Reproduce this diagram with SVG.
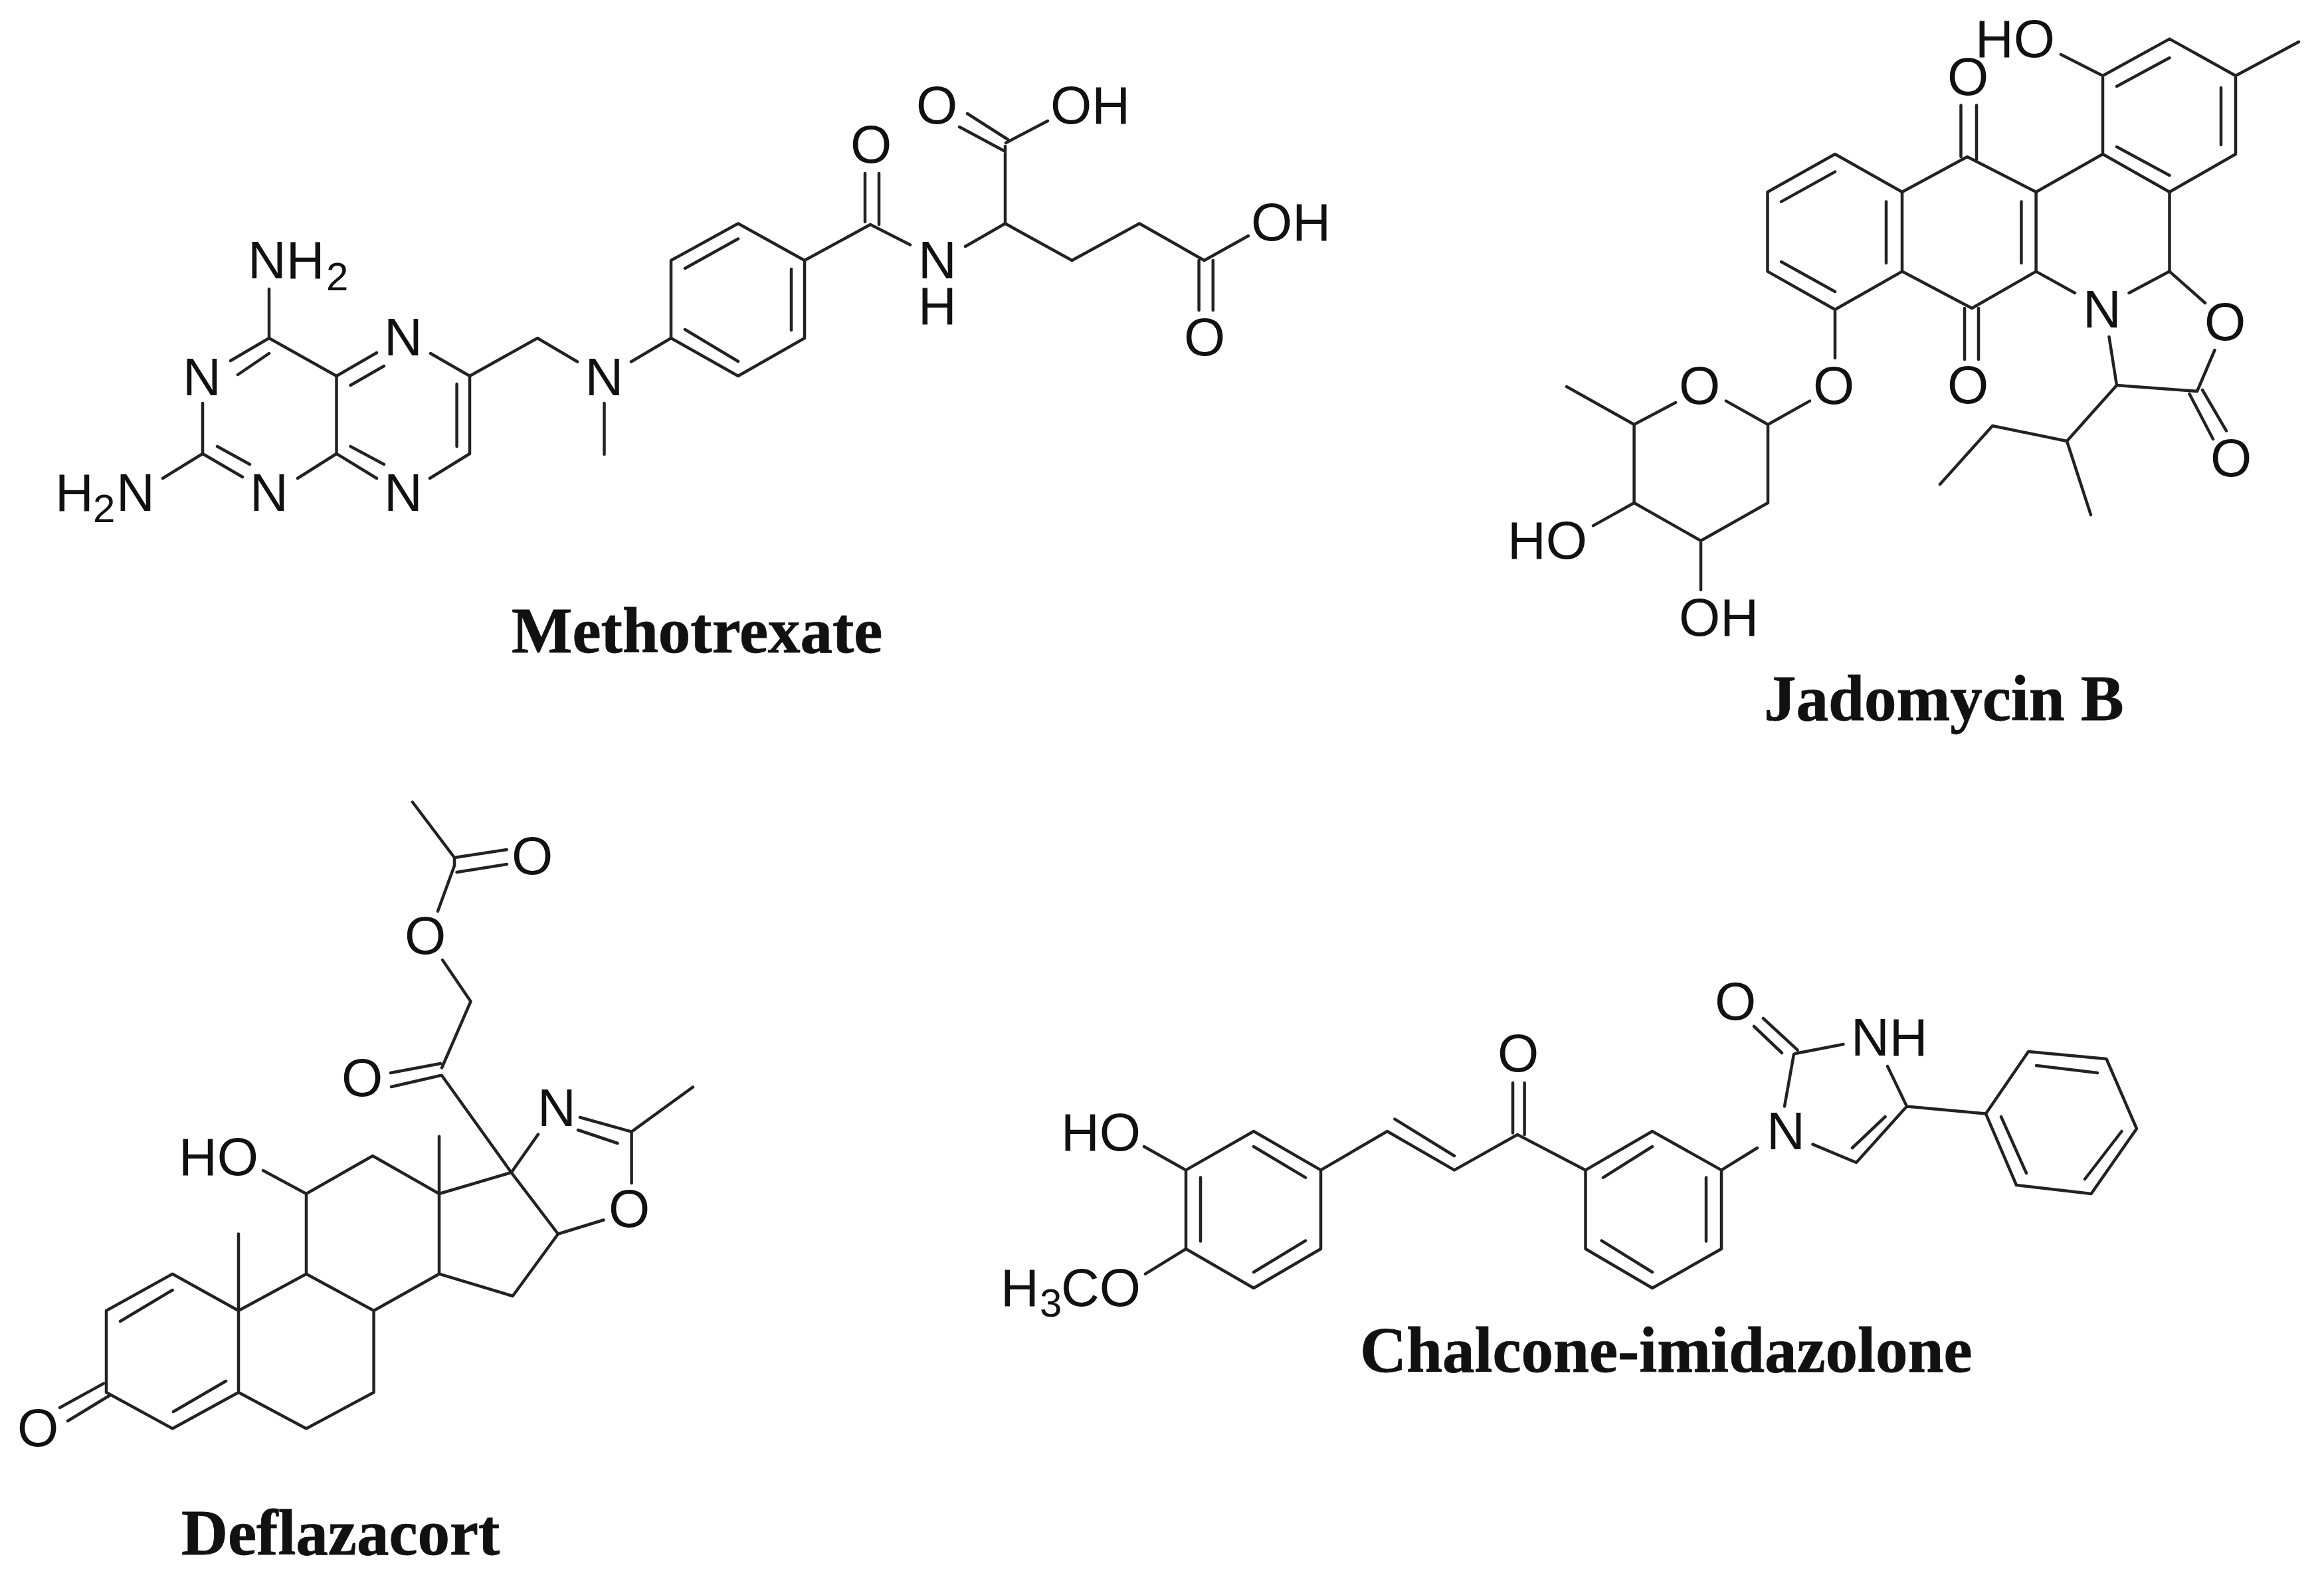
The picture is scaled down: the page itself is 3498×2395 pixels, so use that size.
<svg xmlns="http://www.w3.org/2000/svg" width="3498" height="2395" viewBox="0 0 3498 2395">
<style>
.b{fill:none;stroke:#222;stroke-width:4.5;stroke-linecap:round;stroke-linejoin:round}
.a{font-family:"Liberation Sans",Arial,sans-serif;font-size:80px;fill:#111}
.m{text-anchor:middle}
.s{font-size:60px}
.c{font-family:"Liberation Serif","Times New Roman",serif;font-size:97px;font-weight:bold;fill:#111;stroke:#111;stroke-width:.8}
</style>
<rect width="3498" height="2395" fill="#fff"/>
<g id="connectors">
<path id="bonds-methotrexate" class="b" d="M405 509L405 435M405 509L347 543M405 532L358 564M405 509L506.500 566M506.500 566L567 531M527.500 580L578 551M506.500 566L506.500 683M648 532L707 566M707 566L707 683M687.600 578L687.600 672M707 683L647 720M506.500 683L567 720M527.500 672L578 699M506.500 683L448 720M305 683L365 718M327 672L376 699M305 607L305 683M305 683L245 720M707 566L809 509L869 544.500M909.500 607L909.500 684M950 544.500L1010 509L1010 392L1111 336.500L1211 392L1211 509L1111 566L1010 509M1031 404L1111 359.500M1191 405L1191 497M1031 496L1111 544M1211 392L1310 338L1370 368.600M1302 261L1302 334M1323 261L1323 338M1453 371L1513 336.500L1513 220M1513 228L1444 191M1517 210L1456 171M1514 215L1577 182M1513 336.500L1613.500 392L1715 336.500L1812.600 392L1879 355M1804.600 392L1804.600 467M1825.800 392L1825.800 467"/>
<path id="bonds-jadomycin" class="b" d="M2762 232L2863 289L2863 408.600L2762 466L2660.500 408.600L2660.500 289ZM2681 303.600L2762 258.600M2839 303.600L2839 396M2681 394L2762 439M2863 289L2961 236L3064.600 289L3064.600 408.600L2968 464L2863 408.600M3042.400 303.600L3042.400 396M2951.500 158.600L2951.500 236M2975 158.600L2975 240M2957 464L2957 541M2978 464L2978 541M3165 114L3265.500 58.600L3365 114L3365 232L3265.500 289L3165 232ZM3186 130L3265.500 87M3343 132L3343 218M3186 221L3265.500 264M3365 114L3460 63M3102 82L3165 114M3064.600 289L3165 232M3265.500 289L3265.500 408.600M3064.600 408.600L3123 441M3204.500 441L3265.500 408.600L3319 456M3333.500 527L3307 589L3186 580L3174.500 507M3295.500 593L3331 661M3315 587L3351 648.600M3186 580L3111 664L2999 641L2920 729M3111 664L3147 775M2762 466L2762 539M2724 603.600L2661 639L2661 757L2560 814L2459.600 757L2459.600 639L2522 606M2598 603.600L2661 639M2459.600 639L2358 582M2459.600 757L2398 791.400M2560 814L2560 888"/>
<path id="bonds-deflazacort" class="b" d="M259.600 1917.700L160 1973L160 2096L259.600 2150.500L359 2096L359 1973ZM181 1989L259.600 1942M261 2125L340 2079M156 2082.600L90 2119M166 2100L102 2139M359 1973L461 1917.700L562.600 1973L562.600 2096L461 2150.500L359 2096M461 1917.700L461 1797L561 1740L661 1797L661 1917.700L562.600 1973M661 1797L769.600 1765L840 1857.500L771.700 1951L661 1917.700M359 1857.500L359 1973M661 1710.700L661 1797M396 1762L461 1797M769.600 1765L810 1707.500M873 1682L950.600 1703.600M870 1701L929.500 1721M950.600 1703.600L1043 1636.400M950.600 1703.600L950.600 1781M840 1857.500L908.500 1836.500M769.600 1765L665 1619M663 1601L588 1615M663 1619L589 1636M665 1607.500L708.500 1507.500L666 1445M659 1371.600L684 1303L684 1291L621 1207.500M684 1291L762.600 1279M687.500 1313L763 1301"/>
<path id="bonds-chalcone" class="b" d="M1887 1703L1988 1761.400L1988 1880L1887 1939L1785 1880L1785 1761.400ZM1887 1726L1965 1772.600M1807 1772.600L1807 1868.600M1887 1915L1965 1867.600M1722 1726L1785 1761.400M1785 1880L1724 1917.700M1988 1761.400L2088 1703L2189 1761.400L2284 1708L2386.500 1761.400M2099.400 1684.600L2189 1740M2277 1630L2277 1705.600M2294.600 1630L2294.600 1708M2487 1703L2591 1761.400L2591 1880L2487 1939L2386.500 1880L2386.500 1761.400ZM2487 1726L2413 1772.600M2568 1772.600L2568 1868.600M2487 1915L2410.600 1867.600M2591 1761.400L2645 1728M2686 1665.400L2700 1587M2705.600 1580.600L2654 1533M2682 1585L2640 1545M2702 1586L2774.500 1572M2841 1605L2870 1665.400L2794 1750L2728.500 1722.600M2837.600 1681L2788 1728M2870 1665.400L2989 1676.600M2989 1676.600L3053 1583L3170.500 1594L3216 1699L3147.600 1797L3035 1784ZM3065 1604L3157 1615M3012 1681L3050 1766M3193.500 1703L3138 1775"/>
</g>
<g id="methotrexate">
<text class="a" x="373" y="419">NH<tspan class="s" x="491" dy="18">2</tspan></text>
<text class="a m" x="304" y="595">N</text>
<text class="a m" x="607" y="535">N</text>
<text class="a m" x="405" y="769">N</text>
<text class="a m" x="607" y="769">N</text>
<text class="a m" x="909.500" y="595">N</text>
<text class="a" x="83" y="769">H<tspan class="s" x="140" dy="17">2</tspan><tspan x="175" dy="-17">N</tspan></text>
<text class="a m" x="1311" y="245">O</text>
<text class="a m" x="1411" y="419">N</text>
<text class="a m" x="1411" y="488">H</text>
<text class="a m" x="1410" y="186">O</text>
<text class="a" x="1581" y="186">OH</text>
<text class="a" x="1883" y="362">OH</text>
<text class="a m" x="1813" y="535">O</text>
<text class="c" x="770" y="982">Methotrexate</text>
</g>
<g id="jadomycin-b">
<text class="a m" x="2962" y="143">O</text>
<text class="a m" x="2962" y="607">O</text>
<text class="a" x="2973" y="86">HO</text>
<text class="a m" x="3164" y="493">N</text>
<text class="a m" x="3349" y="512">O</text>
<text class="a m" x="3358" y="717">O</text>
<text class="a m" x="2760" y="608">O</text>
<text class="a m" x="2558" y="608">O</text>
<text class="a" x="2269" y="841">HO</text>
<text class="a" x="2527" y="957">OH</text>
<text class="c" x="2655" y="1084">Jadomycin B</text>
</g>
<g id="deflazacort">
<text class="a m" x="57" y="2177">O</text>
<text class="a" x="269" y="1769">HO</text>
<text class="a m" x="838" y="1695">N</text>
<text class="a m" x="947" y="1847">O</text>
<text class="a m" x="545" y="1650">O</text>
<text class="a m" x="640" y="1436">O</text>
<text class="a m" x="801" y="1316">O</text>
<text class="c" x="273" y="2340">Deflazacort</text>
</g>
<g id="chalcone-imidazolone">
<text class="a" x="1597" y="1732">HO</text>
<text class="a" x="1506" y="1966">H<tspan class="s" x="1565" dy="16">3</tspan><tspan x="1597" dy="-16">CO</tspan></text>
<text class="a m" x="2285" y="1613">O</text>
<text class="a m" x="2688" y="1730">N</text>
<text class="a m" x="2612" y="1535">O</text>
<text class="a" x="2786" y="1589">NH</text>
<text class="c" x="2047" y="2065">Chalcone-imidazolone</text>
</g>
</svg>
